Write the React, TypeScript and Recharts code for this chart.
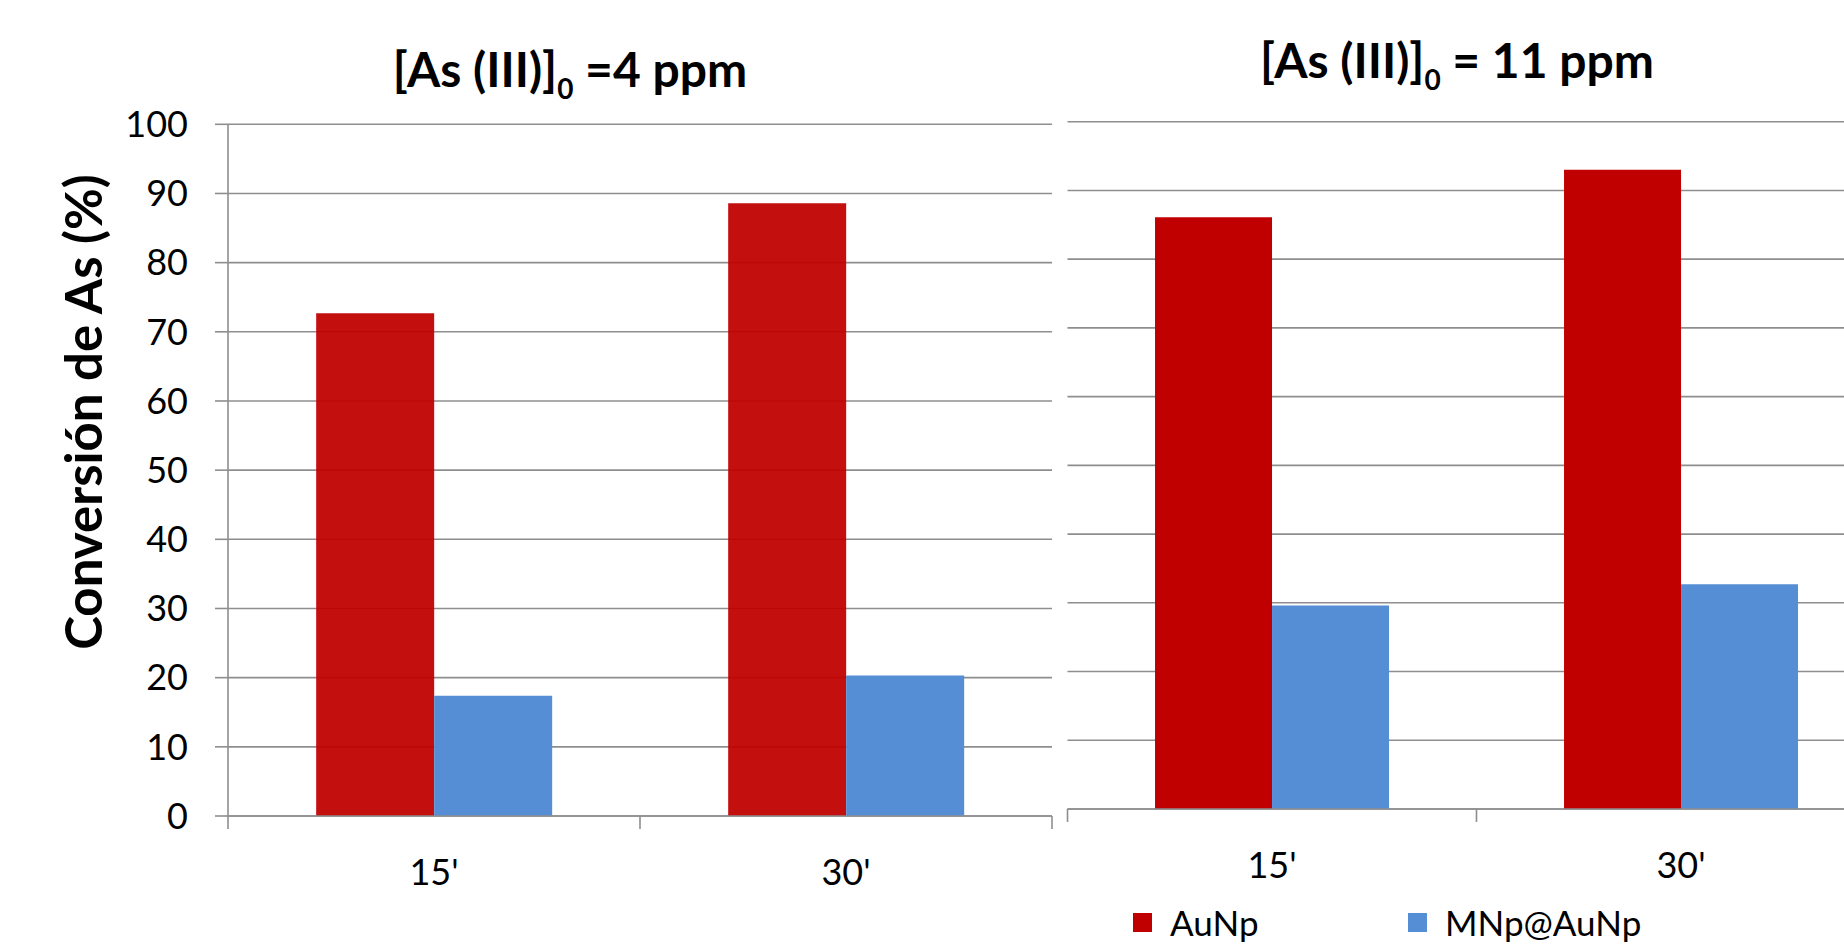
import React from "react";
import { BarChart, Bar, XAxis, YAxis, CartesianGrid, Legend } from "recharts";

// Conversión de As (%) after 15' and 30', two initial concentrations
const categories = ["15'", "30'"];
const auNp4ppm = [72.7, 88.6];
const mnpAuNp4ppm = [17.4, 20.3];
const auNp11ppm = [86.1, 93.0];
const mnpAuNp11ppm = [29.6, 32.7];
const yTicks = [0, 10, 20, 30, 40, 50, 60, 70, 80, 90, 100];

const FONT = "Lato, 'Open Sans', sans-serif";
const GRID = "#8E8E8E";
const RED = "#C00000";
const BLUE = "#558ED5";

const leftData = categories.map((c, i) => ({ t: c, AuNp: auNp4ppm[i], "MNp@AuNp": mnpAuNp4ppm[i] }));
const rightData = categories.map((c, i) => ({ t: c, AuNp: auNp11ppm[i], "MNp@AuNp": mnpAuNp11ppm[i] }));

const X_AXIS_H = 30;

// left chart geometry
const L_W = 1056;
const L_MARGIN = { top: 124.3, right: 4, bottom: 129 - X_AXIS_H, left: 0 };
const L_YAXIS = 228;
const L_BAND = (L_W - L_MARGIN.left - L_MARGIN.right - L_YAXIS) / categories.length;

// right chart geometry
const R_W = 840;
const R_MARGIN = { top: 121.7, right: 10.5, bottom: 136 - X_AXIS_H, left: 11.5 };
const R_BAND = (R_W - R_MARGIN.left - R_MARGIN.right) / categories.length;

function makeTick(band: number) {
    return function CatTick(props: any) {
        const { x, y, payload } = props;
        const idx = categories.indexOf(payload.value);
        return (
            <g>
                <line x1={x - band / 2} x2={x - band / 2} y1={y} y2={y + 13} stroke={GRID} strokeWidth={1.6} />
                {idx === categories.length - 1 && (
                    <line x1={x + band / 2} x2={x + band / 2} y1={y} y2={y + 13} stroke={GRID} strokeWidth={1.6} />
                )}
                <text x={x} y={y + 69} textAnchor="middle" fill="#000" fontSize={36} fontFamily={FONT}>
                    {payload.value}
                </text>
            </g>
        );
    };
}

const LeftTick = makeTick(L_BAND);
const RightTick = makeTick(R_BAND);

function LegendContent(props: any) {
    const { payload } = props;
    return (
        <div style={{ display: "flex", alignItems: "center", fontFamily: FONT, fontSize: 35, lineHeight: "36px", color: "#000" }}>
            {(payload || []).map((e: any, i: number) => (
                <div key={i} style={{ display: "flex", alignItems: "center", width: i === 0 ? 275 : "auto" }}>
                    <span style={{ display: "inline-block", width: 19, height: 19, background: e.color, marginRight: 18 }} />
                    <span>{e.value}</span>
                </div>
            ))}
        </div>
    );
}

export default function App() {
    return (
        <div style={{ position: "absolute", left: 0, top: 0, width: 1844, height: 945, overflow: "hidden", background: "#fff" }}>
            <div style={{ position: "absolute", left: 0, top: 0 }}>
                <BarChart width={L_W} height={945} data={leftData} margin={L_MARGIN} barCategoryGap="21.4%" barGap={0}>
                    <CartesianGrid vertical={false} stroke={GRID} strokeWidth={1.6} />
                    <XAxis dataKey="t" height={X_AXIS_H} tick={LeftTick} tickLine={false} tickSize={0} tickMargin={0} stroke={GRID} strokeWidth={1.6} interval={0} />
                    <YAxis
                        width={L_YAXIS}
                        domain={[0, 100]}
                        ticks={yTicks}
                        interval={0}
                        tickSize={13}
                        tickMargin={27}
                        stroke={GRID}
                        strokeWidth={1.6}
                        tick={{ fill: "#000", fontSize: 36, fontFamily: FONT }}
                    />
                    <Bar dataKey="AuNp" fill={RED} fillOpacity={0.94} isAnimationActive={false} />
                    <Bar dataKey="MNp@AuNp" fill={BLUE} isAnimationActive={false} />
                </BarChart>
            </div>
            <div style={{ position: "absolute", left: 1056, top: 0 }}>
                <BarChart width={R_W} height={945} data={rightData} margin={R_MARGIN} barCategoryGap="21.4%" barGap={0}>
                    <CartesianGrid vertical={false} stroke={GRID} strokeWidth={1.6} />
                    <XAxis dataKey="t" height={X_AXIS_H} tick={RightTick} tickLine={false} tickSize={0} tickMargin={0} stroke={GRID} strokeWidth={1.6} interval={0} />
                    <YAxis hide domain={[0, 100]} ticks={yTicks} interval={0} />
                    <Legend
                        layout="horizontal"
                        verticalAlign="middle"
                        content={LegendContent}
                        wrapperStyle={{ left: 77, top: 904, width: 700, height: 36 }}
                    />
                    <Bar dataKey="AuNp" fill={RED} isAnimationActive={false} />
                    <Bar dataKey="MNp@AuNp" fill={BLUE} isAnimationActive={false} />
                </BarChart>
            </div>
            <svg width={1844} height={945} style={{ position: "absolute", left: 0, top: 0, pointerEvents: "none" }}>
                <text x={570} y={87} textAnchor="middle" fontFamily={FONT} fontWeight="bold" fontSize={48} fill="#000">
                    [As (III)]
                    <tspan fontSize={28} dy={12}>0</tspan>
                    <tspan dy={-12}> =4 ppm</tspan>
                </text>
                <text x={1457} y={78} textAnchor="middle" fontFamily={FONT} fontWeight="bold" fontSize={48} fill="#000">
                    [As (III)]
                    <tspan fontSize={28} dy={12}>0</tspan>
                    <tspan dy={-12}> = 11 ppm</tspan>
                </text>
                <g transform="translate(84,412) rotate(-90)">
                    <text x={0} y={18} textAnchor="middle" fontFamily={FONT} fontWeight="bold" fontSize={51} fill="#000">
                        Conversión de As (%)
                    </text>
                </g>
            </svg>
        </div>
    );
}
